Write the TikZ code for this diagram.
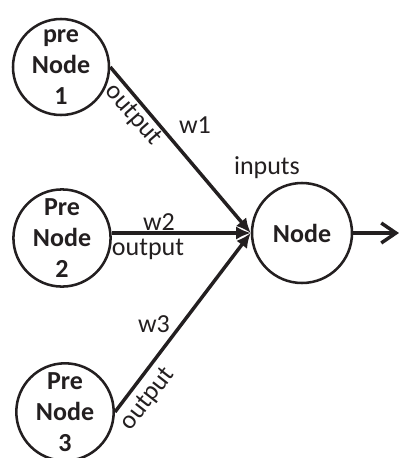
\documentclass[tikz,border=0pt]{standalone}
\usepackage{fontspec}
\setmainfont{Carlito}
\usepackage{tikz}
\usetikzlibrary{arrows,arrows.meta}
\definecolor{ink}{RGB}{35,31,32}

\begin{document}
\begin{tikzpicture}[x=0.75pt,y=0.75pt,yscale=-1,xscale=1,
  neuron/.style={draw=ink, text=ink, circle, line width=1.9, inner sep=0pt, align=center, font=\bfseries\fontsize{19.5}{23}\selectfont},
  lbl/.style={inner sep=0.75pt, text=ink, font=\fontsize{19.5}{23}\selectfont},
  wire/.style={draw=ink, line width=2.6, -{Latex[length=11pt,width=10pt]}}
]
\path [use as bounding box] (0,0) rectangle (399,458);

%Shape: Circle
\draw (61,67) node [neuron, minimum size=72pt] (pre1) {pre\\Node\\1};
%Shape: Circle
\draw (62,238) node [neuron, minimum size=72pt] (pre2) {Pre\\Node\\2};
%Shape: Circle
\draw (65,412) node [neuron, minimum size=72pt] (pre3) {Pre\\Node\\3};
%Shape: Circle
\draw (302,233) node [neuron, minimum size=75pt] (node) {Node};
\coordinate (out) at (399,233);

%Straight Lines
\draw [wire] (pre1.east) -- (node.west);
%Straight Lines
\draw [wire] (pre2.east |- node.west) -- (node.west);
%Straight Lines
\draw [wire] (pre3.east) -- (node.west);
%Straight Lines
\draw [draw=ink, line width=2.6, -{Straight Barb[length=11pt,width=15pt]}] (node.east) -- (out);

% Text Node
\draw (133,115) node [lbl, rotate=-49] (out1) {output};
% Text Node
\draw (195,125) node [lbl] (w1) {w1};
% Text Node
\draw (159,222) node [lbl] (w2) {w2};
% Text Node
\draw (148,249) node [lbl] (out2) {output};
% Text Node
\draw (154,324) node [lbl] (w3) {w3};
% Text Node
\draw (148,399) node [lbl, rotate=52] (out3) {output};
% Text Node
\draw (267,168) node [lbl] (inputs) {inputs};

\end{tikzpicture}
\end{document}
